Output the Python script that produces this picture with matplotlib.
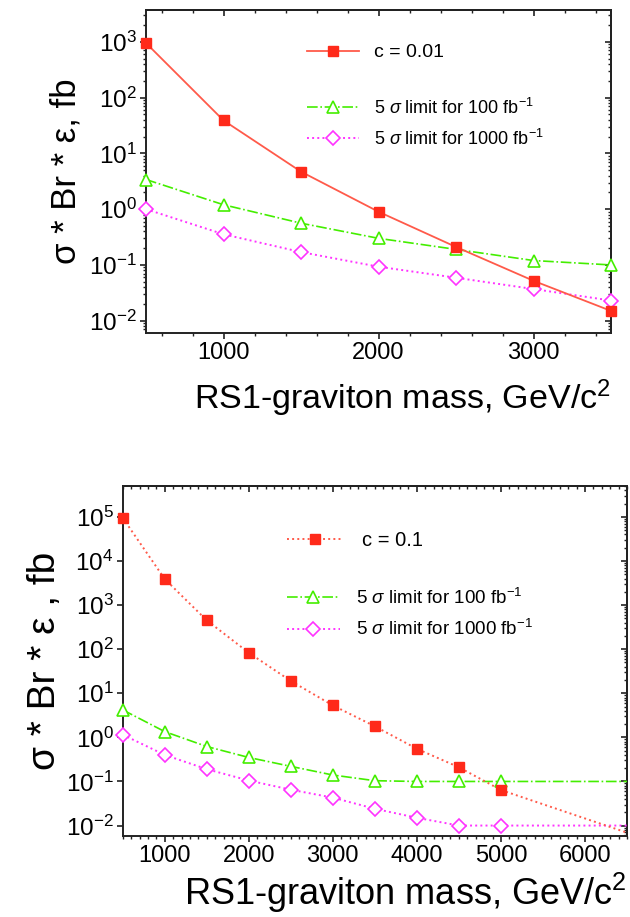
import numpy as np
import matplotlib
matplotlib.use("Agg")
import matplotlib.pyplot as plt
from matplotlib.ticker import MultipleLocator, LogLocator, FuncFormatter, NullFormatter, FixedLocator

plt.rcParams['font.family'] = ['Liberation Sans', 'DejaVu Sans']
plt.rcParams['mathtext.fontset'] = 'custom'
plt.rcParams['mathtext.rm'] = 'Liberation Sans'
plt.rcParams['mathtext.it'] = 'Liberation Sans:italic'
plt.rcParams['mathtext.default'] = 'regular'

# ---------------- data ----------------
# top panel (c = 0.01)
mass_top = [500, 1000, 1500, 2000, 2500, 3000, 3500]
xsec_c001 = [950, 39, 4.7, 0.9, 0.21, 0.052, 0.015]
lim100_top = [3.4, 1.2, 0.56, 0.30, 0.19, 0.12, 0.10]
lim1000_top = [1.0, 0.355, 0.17, 0.093, 0.059, 0.037, 0.023]

# bottom panel (c = 0.1); last point (6500) is the line end without a marker
mass_bot = [500, 1000, 1500, 2000, 2500, 3000, 3500, 4000, 4500, 5000, 6500]
xsec_c01 = [9.5e4, 3900, 450, 83, 19, 5.3, 1.78, 0.55, 0.21, 0.064, 0.0069]
lim100_bot = [4.2, 1.35, 0.62, 0.35, 0.22, 0.14, 0.104, 0.1, 0.1, 0.1, 0.1]
lim1000_bot = [1.15, 0.40, 0.19, 0.105, 0.065, 0.043, 0.024, 0.015, 0.01, 0.01, 0.01]

labels_top = ['c = 0.01', r'5 $\it{\sigma}$ limit for 100 fb$^{-1}$', r'5 $\it{\sigma}$ limit for 1000 fb$^{-1}$']
labels_bot = ['c = 0.1', r'5 $\it{\sigma}$ limit for 100 fb$^{-1}$', r'5 $\it{\sigma}$ limit for 1000 fb$^{-1}$']
xlabel = r'RS1-graviton mass, GeV/c$^{2}$'
ylabel_top = r'σ * Br * ε, fb'
ylabel_bot = r'σ * Br * ε , fb'

RED = '#ff2a1a'
RED_L = '#ff5a4a'
GREEN = '#44ee00'
MAG = '#ff33ff'
SPINE = '#222222'

W, H = 630, 917
fig = plt.figure(figsize=(W / 100, H / 100), dpi=100)


def px_axes(l, t, r, b):
    return fig.add_axes([l / W, 1 - b / H, (r - l) / W, (b - t) / H])


def logfmt(v, p):
    e = int(round(np.log10(v)))
    return r'10$^{%d}$' % e


def style(ax, xmajor, xminor, xlim, ylim, ymajors):
    ax.set_yscale('log')
    ax.set_xlim(*xlim)
    ax.set_ylim(*ylim)
    for s in ax.spines.values():
        s.set_color(SPINE)
        s.set_linewidth(1.4)
    ax.xaxis.set_major_locator(MultipleLocator(xmajor))
    ax.xaxis.set_minor_locator(MultipleLocator(xminor))
    ax.yaxis.set_major_locator(FixedLocator(ymajors))
    ax.yaxis.set_minor_locator(LogLocator(base=10, subs=np.arange(2, 10)))
    ax.yaxis.set_major_formatter(FuncFormatter(logfmt))
    ax.yaxis.set_minor_formatter(NullFormatter())
    ax.tick_params(which='major', direction='out', length=4.5, width=1.2, color=SPINE,
                   labelsize=17, pad=2)
    ax.tick_params(axis='y', which='major', labelsize=17.5)
    ax.tick_params(which='minor', direction='out', length=2.5, width=1.0, color=SPINE)
    # mirrored ticks pointing inward on top / right
    sx = ax.secondary_xaxis('top')
    sx.xaxis.set_major_locator(MultipleLocator(xmajor))
    sx.xaxis.set_minor_locator(MultipleLocator(xminor))
    sx.tick_params(which='major', direction='in', length=4.5, width=1.2, color=SPINE, labeltop=False)
    sx.tick_params(which='minor', direction='in', length=2.5, width=1.0, color=SPINE)
    sy = ax.secondary_yaxis('right')
    sy.yaxis.set_major_locator(FixedLocator(ymajors))
    sy.yaxis.set_minor_locator(LogLocator(base=10, subs=np.arange(2, 10)))
    sy.tick_params(which='major', direction='in', length=4.5, width=1.2, color=SPINE, labelright=False)
    sy.tick_params(which='minor', direction='in', length=2.5, width=1.0, color=SPINE, labelright=False)
    sy.yaxis.set_minor_formatter(NullFormatter())
    sy.yaxis.set_major_formatter(NullFormatter())
    for s in list(sx.spines.values()) + list(sy.spines.values()):
        s.set_color(SPINE)
        s.set_linewidth(1.4)


# ---------------- top panel ----------------
ax1 = px_axes(146, 10, 611, 333)
h1, = ax1.plot(mass_top, xsec_c001, '-', color=RED_L, lw=1.3, marker='s', ms=7.5,
               mfc=RED, mec=RED, clip_on=False, zorder=5)
h2, = ax1.plot(mass_top, lim100_top, '-.', color=GREEN, lw=1.2, marker='^', ms=9,
               mfc='white', mec=GREEN, mew=1.2, clip_on=False, zorder=4)
h3, = ax1.plot(mass_top, lim1000_top, ':', color=MAG, lw=1.4, marker='D', ms=7.5,
               mfc='white', mec=MAG, mew=1.2, clip_on=False, zorder=4)
style(ax1, 1000, 200, (500, 3500), (10 ** -2.22, 10 ** 3.57), [1e-2, 1e-1, 1, 10, 100, 1000])
ax1.set_xlabel(xlabel, fontsize=24.5, loc='right', labelpad=10)
ax1.set_ylabel(ylabel_top, fontsize=25, labelpad=5)

lg1 = ax1.legend([h1], [labels_top[0]], loc='center left', bbox_to_anchor=(0.3456, 0.868),
                 frameon=False, fontsize=14, handlelength=2.7, handletextpad=0.75,
                 borderpad=0, borderaxespad=0, numpoints=1)
ax1.add_artist(lg1)
ax1.legend([h2, h3], labels_top[1:], loc='center left', bbox_to_anchor=(0.3456, 0.650),
           frameon=False, fontsize=13, handlelength=2.9, handletextpad=0.8,
           borderpad=0, borderaxespad=0, labelspacing=0.6, numpoints=1)

# ---------------- bottom panel ----------------
ax2 = px_axes(122.7, 486, 627, 835.7)
mk = list(range(10))
g1, = ax2.plot(mass_bot, xsec_c01, ':', color=RED_L, lw=1.4, marker='s', ms=7.5,
               mfc=RED, mec=RED, markevery=mk, clip_on=False, zorder=5)
g2, = ax2.plot(mass_bot, lim100_bot, '-.', color=GREEN, lw=1.2, marker='^', ms=9,
               mfc='white', mec=GREEN, mew=1.2, markevery=mk, clip_on=False, zorder=4)
g3, = ax2.plot(mass_bot, lim1000_bot, ':', color=MAG, lw=1.4, marker='D', ms=7.5,
               mfc='white', mec=MAG, mew=1.2, markevery=mk, clip_on=False, zorder=4)
style(ax2, 1000, 100, (500, 6500), (10 ** -2.23, 10 ** 5.70),
      [1e-2, 1e-1, 1, 10, 100, 1e3, 1e4, 1e5])
ax2.set_xlabel(xlabel, fontsize=26, loc='right', labelpad=3)
ax2.set_ylabel(ylabel_bot, fontsize=28, labelpad=2)

lg2 = ax2.legend([g1], [labels_bot[0]], loc='center left', bbox_to_anchor=(0.3258, 0.8436),
                 frameon=False, fontsize=14.5, handlelength=2.8, handletextpad=0.9,
                 borderpad=0, borderaxespad=0, numpoints=1)
ax2.add_artist(lg2)
ax2.legend([g2, g3], labels_bot[1:], loc='center left', bbox_to_anchor=(0.3258, 0.6354),
           frameon=False, fontsize=13.5, handlelength=2.8, handletextpad=0.9,
           borderpad=0, borderaxespad=0, labelspacing=0.6, numpoints=1)

fig.savefig('out.png', dpi=100)
